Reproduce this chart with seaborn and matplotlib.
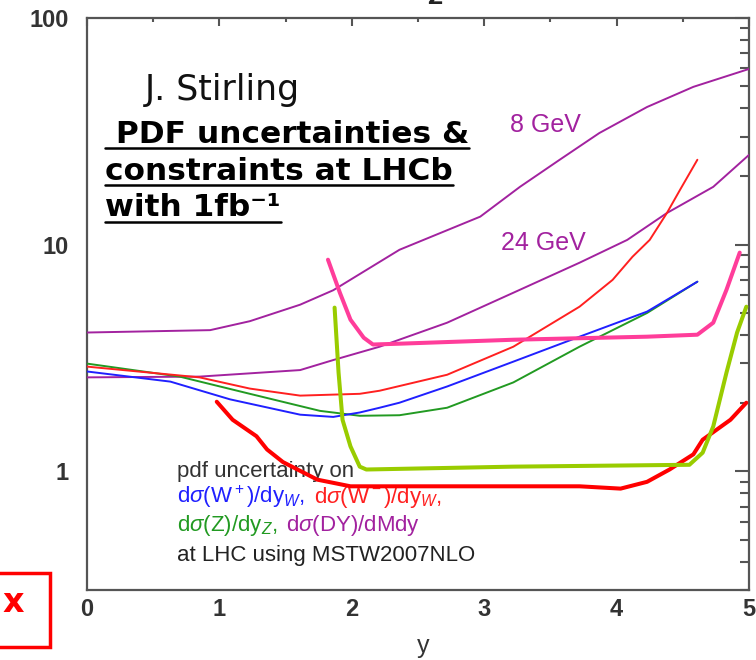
import matplotlib
matplotlib.use("Agg")
import matplotlib.pyplot as plt
import seaborn as sns
from matplotlib.lines import Line2D
from matplotlib.patches import Rectangle

# ---------------- data ----------------
x_dy8 = [0, 0.93, 1.23, 1.61, 1.86, 2.36, 2.97, 3.27, 3.57, 3.87, 4.23, 4.58, 5.0]
y_dy8 = [4.1, 4.2, 4.6, 5.44, 6.3, 9.5, 13.3, 18, 23.7, 31.1, 40.5, 49.7, 59.6]

x_dy24 = [0, 0.85, 1.61, 1.86, 2.21, 2.72, 3.22, 3.72, 4.08, 4.38, 4.73, 5.0]
y_dy24 = [2.6, 2.62, 2.8, 3.1, 3.55, 4.53, 6.14, 8.33, 10.5, 13.8, 18, 24.9]

x_z = [0, 0.70, 1.23, 1.76, 2.06, 2.36, 2.72, 3.22, 3.72, 4.23, 4.61]
y_z = [2.99, 2.62, 2.2, 1.85, 1.76, 1.77, 1.91, 2.47, 3.55, 5.0, 6.87]

x_wp = [0, 0.63, 1.08, 1.61, 1.86, 2.06, 2.21, 2.36, 2.72, 3.22, 3.72, 4.23, 4.61]
y_wp = [2.76, 2.49, 2.08, 1.78, 1.74, 1.82, 1.91, 2.01, 2.37, 3.05, 3.93, 5.07, 6.87]

x_wm = [0, 0.85, 1.23, 1.61, 2.06, 2.21, 2.72, 3.22, 3.72, 3.97, 4.12, 4.25, 4.38, 4.48, 4.61]
y_wm = [2.9, 2.6, 2.32, 2.16, 2.2, 2.27, 2.67, 3.55, 5.33, 7.0, 8.85, 10.5, 13.8, 17.5, 23.7]

x_lhcb_w = [0.98, 1.10, 1.28, 1.36, 1.48, 1.74, 1.99, 2.36, 3.72, 4.03, 4.23, 4.40, 4.58, 4.65, 4.86, 4.98]
y_lhcb_w = [2.03, 1.69, 1.43, 1.25, 1.10, 0.92, 0.86, 0.86, 0.86, 0.84, 0.90, 1.02, 1.19, 1.38, 1.69, 2.01]

x_lhcb_z = [1.82, 1.91, 1.99, 2.09, 2.16, 2.36, 3.22, 4.23, 4.61, 4.73, 4.83, 4.93]
y_lhcb_z = [8.59, 6.14, 4.67, 3.89, 3.63, 3.66, 3.81, 3.93, 4.01, 4.53, 6.33, 9.23]

x_lhcb_g = [1.87, 1.90, 1.93, 1.99, 2.06, 2.11, 3.22, 4.55, 4.65, 4.73, 4.83, 4.91, 4.98]
y_lhcb_g = [5.28, 2.73, 1.69, 1.29, 1.05, 1.02, 1.05, 1.07, 1.21, 1.58, 2.73, 4.1, 5.33]

x_ticks = [0, 1, 2, 3, 4, 5]
y_ticks = [1, 10, 100]
y_ticklabels = ["1", "10", "100"]

PURPLE = "#a2229f"
BLUE = "#2020ff"
RED = "#ff2020"
GREEN = "#229a22"
PINK = "#ff3d9a"
LIME = "#99cc00"

# ---------------- figure ----------------
sns.set_theme(style="white")
plt.rcParams['font.family'] = ['DejaVu Sans']
plt.rcParams['mathtext.fontset'] = 'custom'
plt.rcParams['mathtext.rm'] = 'Liberation Sans'
plt.rcParams['mathtext.it'] = 'Liberation Sans:italic'
plt.rcParams['mathtext.bf'] = 'Liberation Sans:bold'

W, H = 756, 660
fig = plt.figure(figsize=(W / 100, H / 100), dpi=100)
fig.patch.set_facecolor("white")
ax = fig.add_axes([87 / W, 1 - 590 / H, (749 - 87) / W, (590 - 18) / H])
ax.set_facecolor("white")
ax.set_yscale("log")


def fx(px):
    return px / W


def fy(py):
    return 1 - py / H


curves = [
    (x_dy8, y_dy8, PURPLE, 1.4),
    (x_dy24, y_dy24, PURPLE, 1.4),
    (x_z, y_z, GREEN, 1.4),
    (x_wp, y_wp, BLUE, 1.4),
    (x_wm, y_wm, RED, 1.4),
    (x_lhcb_w, y_lhcb_w, "#ff0000", 2.9),
    (x_lhcb_z, y_lhcb_z, PINK, 2.9),
    (x_lhcb_g, y_lhcb_g, LIME, 2.9),
]
for xs, ys, col, lw in curves:
    sns.lineplot(x=xs, y=ys, color=col, lw=lw, ax=ax, zorder=3)

ax.set_xlim(0, 5)
ax.set_ylim(0.3, 100)

ax.set_xticks(x_ticks)
ax.set_xticks([0.5, 1.5, 2.5, 3.5, 4.5], minor=True)
ax.set_yticks(y_ticks, labels=y_ticklabels)
minor_y = [m * 10 ** e for e in (-1, 0, 1) for m in range(2, 10) if 0.3 <= m * 10 ** e <= 100]
ax.set_yticks(minor_y, minor=True)
ax.set_yticklabels([], minor=True)

for s in ax.spines.values():
    s.set_color("#555555")
    s.set_linewidth(1.6)

ax.tick_params(which="both", direction="in", top=True, right=True,
               color="#555555", width=1.5)
ax.tick_params(axis="x", which="major", length=6, pad=6)
ax.tick_params(axis="x", which="minor", length=3)
ax.tick_params(axis="y", which="major", length=10, pad=13)
ax.tick_params(axis="y", which="minor", length=6.5)
for lab in ax.get_xticklabels() + ax.get_yticklabels():
    lab.set_fontfamily("Liberation Sans")
    lab.set_fontweight("bold")
    lab.set_fontsize(17)
    lab.set_color("#333333")

ax.set_xlabel("y", fontsize=18, color="#333333", family="Liberation Sans",
              va="bottom")
ax.xaxis.set_label_coords((423 - 87) / (749 - 87), -(658 - 590) / (590 - 18))
ax.set_ylabel("")

# top clipped title fragment
fig.text(fx(435), fy(4), "Z", fontsize=15, fontweight="bold", ha="center",
         va="baseline", color="#222222")

# curve labels
ax.text(fx(545), fy(125), "8 GeV", transform=fig.transFigure, color=PURPLE,
        fontsize=18, ha="center", va="center", family="Liberation Sans")
ax.text(fx(543), fy(243), "24 GeV", transform=fig.transFigure, color=PURPLE,
        fontsize=18, ha="center", va="center", family="Liberation Sans")

# annotation block
fig.text(fx(145), fy(100), "J. Stirling", fontsize=25, color="#111111",
         ha="left", va="baseline")

renderer = fig.canvas.get_renderer()
title_lines = [(" PDF uncertainties &", 143, 148),
               ("constraints at LHCb", 180, 185),
               ("with 1fb\u207b\u00b9", 216, 222)]
for txt, base, ul in title_lines:
    t = fig.text(fx(105), fy(base), txt, fontsize=22.5, fontweight="bold",
                 color="black", ha="left", va="baseline")
    bb = t.get_window_extent(renderer)
    fig.add_artist(Line2D([bb.x0 / W, bb.x1 / W], [fy(ul), fy(ul)],
                          color="black", lw=1.8, transform=fig.transFigure))

# legend-like text (drawn under the curves)
leg_lines = [
    (472, [("pdf uncertainty on", "#333333")]),
    (497, [(r"d$\sigma$(W$^+$)/dy$_W$, ", BLUE), (r"d$\sigma$(W$^-$)/dy$_W$,", RED)]),
    (525, [(r"d$\sigma$(Z)/dy$_Z$, ", GREEN), (r"d$\sigma$(DY)/dMdy", PURPLE)]),
    (555, [("at LHC using MSTW2007NLO", "#222222")]),
]
for py, pieces in leg_lines:
    xpos = fx(177)
    for txt, col in pieces:
        t = ax.text(xpos, fy(py), txt, transform=fig.transFigure, color=col,
                    fontsize=16, ha="left", va="center", family="Liberation Sans",
                    zorder=1)
        bb = t.get_window_extent(renderer)
        xpos = bb.x1 / W + 7 / W

# red box with x
fig.add_artist(Rectangle((fx(-5), fy(647)), 55 / W, 74 / H, fill=False,
                         edgecolor="#ff0000", lw=2.5, transform=fig.transFigure))
fig.text(fx(13), fy(602), "x", fontsize=24, fontweight="bold", color="#ff0000",
         ha="center", va="center")

fig.savefig("out.png", dpi=100)
